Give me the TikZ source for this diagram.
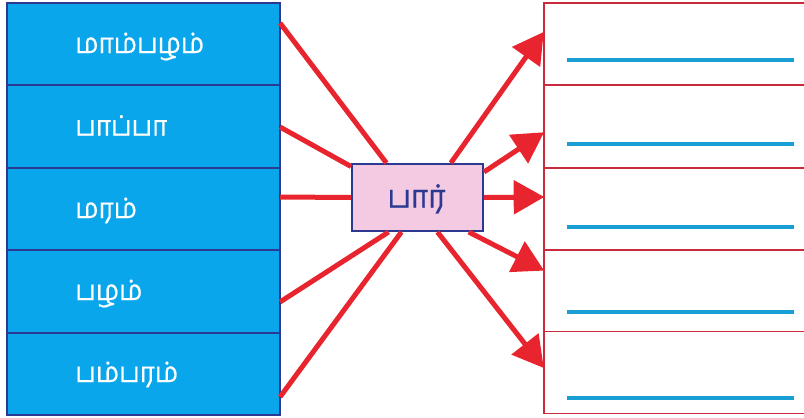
\documentclass[tikz,border=0pt]{standalone}
\usepackage{fontspec}
\newfontfamily\tamil[Script=Tamil,FakeStretch=0.93,FakeBold=0.6]{Hind Madurai}
\usetikzlibrary{arrows.meta}
\definecolor{cyanbox}{HTML}{0AA6EC}
\definecolor{navy}{HTML}{2B3990}
\definecolor{arrowred}{HTML}{E8252F}
\definecolor{pinkbox}{HTML}{F3CAE2}
\definecolor{crimson}{HTML}{C92A3E}
\definecolor{lineblue}{HTML}{1A9FD4}
\tikzset{
  leftbox/.style={draw=navy, line width=1.5pt, fill=cyanbox, minimum width=204.75pt, minimum height=61.8pt, inner sep=0pt},
  lefttext/.style={anchor=base west, text=white, font=\tamil\fontsize{21}{24}\selectfont, inner sep=0pt},
  rightbox/.style={draw=crimson, line width=1.4pt, fill=white, minimum width=198pt, minimum height=61.5pt, inner sep=0pt},
  centerbox/.style={draw=navy, line width=1.5pt, fill=pinkbox, minimum width=98.25pt, minimum height=50.25pt, inner sep=0pt},
  centertext/.style={anchor=base, text=navy, font=\tamil\fontsize{24}{28}\selectfont, inner sep=0pt},
  feedline/.style={draw=arrowred, line width=3.75pt},
  outarrow/.style={draw=arrowred, line width=3.75pt, -{Triangle[length=23pt,width=25pt]}, shorten >=-1pt},
  blankline/.style={draw=lineblue, line width=2.3pt}
}
\begin{document}
\begin{tikzpicture}[x=0.75pt,y=-0.75pt]
\useasboundingbox (0,0) rectangle (804,418);
% left column
\node[leftbox] (l1) at (143.5,44.2) {};
\node[leftbox] (l2) at (143.5,126.6) {};
\node[leftbox] (l3) at (143.5,209.0) {};
\node[leftbox] (l4) at (143.5,291.4) {};
\node[leftbox] (l5) at (143.5,373.8) {};
\node[lefttext] (t1) at (75,53) {மாம்பழம்};
\node[lefttext] (t2) at (75,135.5) {பாப்பா};
\node[lefttext] (t3) at (75,218) {மரம்};
\node[lefttext] (t4) at (75,300) {பழம்};
\node[lefttext] (t5) at (75,382) {பம்பரம்};
% right column
\node[rightbox] (r1) at (676,44) {};
\node[rightbox] (r2) at (676,126.5) {};
\node[rightbox] (r3) at (676,209) {};
\node[rightbox] (r4) at (676,291) {};
\node[rightbox] (r5) at (676,372.5) {};
\draw[blankline] (567,60) -- (794,60);
\draw[blankline] (567,144) -- (794,144);
\draw[blankline] (567,227) -- (794,227);
\draw[blankline] (567,312) -- (794,312);
\draw[blankline] (567,398) -- (794,398);
% centre
\node[centerbox] (c) at (417.5,197.5) {};
\node[centertext] (ct) at (416.5,207.5) {பார்};
% connector points
\coordinate (a1) at (280,23);
\coordinate (a2) at (280,127);
\coordinate (a3) at (280,197);
\coordinate (a4) at (280,302);
\coordinate (a5) at (280,397);
\coordinate (b1) at (543,33);
\coordinate (b2) at (543,133);
\coordinate (b3) at (543,197);
\coordinate (b4) at (543,270);
\coordinate (b5) at (543,367);
% incoming lines
\draw[feedline] (a1) -- (c.132);
\draw[feedline] (a2) -- (c.155);
\draw[feedline] (a3) -- (c.west);
\draw[feedline] (a4) -- (c.230);
\draw[feedline] (a5) -- (c.245);
% outgoing arrows
\draw[outarrow] (c.46) -- (b1);
\draw[outarrow] (c.21) -- (b2);
\draw[outarrow] (c.east) -- (b3);
\draw[outarrow] (c.-34) -- (b4);
\draw[outarrow] (c.-60) -- (b5);
\end{tikzpicture}
\end{document}
